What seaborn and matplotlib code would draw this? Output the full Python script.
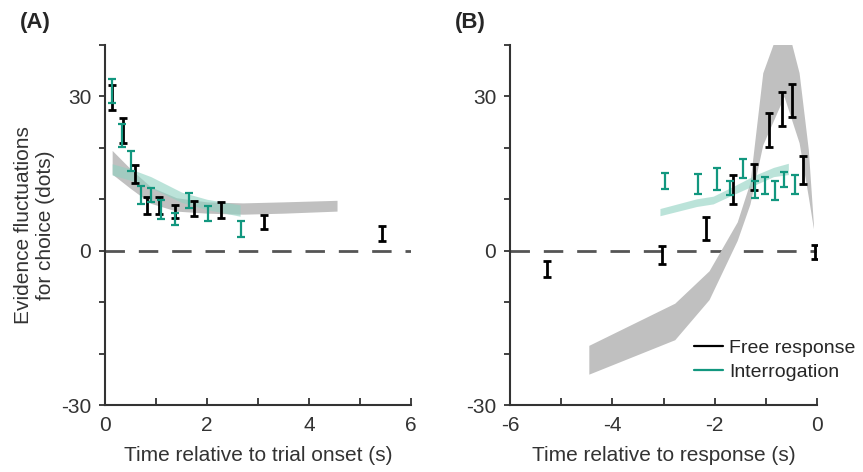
import numpy as np
import pandas as pd
import seaborn as sns
import matplotlib.pyplot as plt
from matplotlib.lines import Line2D
from matplotlib.ticker import MultipleLocator, FixedLocator

# Panel A: relative to trial onset
a_free_x = [0.14, 0.36, 0.59, 0.82, 1.06, 1.37, 1.75, 2.27, 3.12, 5.43]
a_free_y = [29.8, 23.4, 14.9, 8.8, 8.8, 7.6, 8.2, 7.9, 5.6, 3.3]
a_free_err = [2.4, 2.5, 1.7, 1.6, 1.6, 1.2, 1.4, 1.5, 1.3, 1.5]

a_int_x = [0.14, 0.33, 0.51, 0.70, 0.90, 1.10, 1.37, 1.65, 2.01, 2.66]
a_int_y = [31.0, 22.4, 17.4, 10.8, 10.8, 8.0, 6.2, 9.8, 7.2, 4.2]
a_int_err = [2.3, 2.3, 1.9, 1.8, 1.4, 1.8, 1.2, 1.5, 1.5, 1.5]

a_free_fit_x = [0.14, 0.5, 0.9, 1.4, 2.0, 2.7, 3.5, 4.55]
a_free_fit_y = [17.2, 14.0, 10.8, 9.0, 8.4, 8.2, 8.4, 8.75]
a_free_fit_sd = [2.3, 1.9, 1.6, 1.3, 1.1, 1.1, 1.1, 1.05]

a_int_fit_x = [0.14, 0.5, 0.9, 1.5, 2.0, 2.65]
a_int_fit_y = [15.8, 14.8, 13.3, 10.4, 9.0, 7.8]
a_int_fit_sd = [1.1, 1.1, 1.1, 1.0, 1.0, 1.1]

# Panel B: relative to response
b_free_x = [-5.28, -3.02, -2.16, -1.64, -1.23, -0.94, -0.69, -0.48, -0.27, -0.04]
b_free_y = [-3.55, -0.85, 4.3, 11.9, 14.3, 23.4, 27.5, 29.2, 15.7, -0.2]
b_free_err = [1.5, 1.7, 2.3, 2.9, 2.5, 3.3, 3.3, 3.2, 2.7, 1.4]

b_int_x = [-2.98, -2.32, -1.96, -1.70, -1.44, -1.21, -1.02, -0.83, -0.64, -0.43]
b_int_y = [13.6, 12.9, 13.9, 12.2, 16.0, 11.9, 12.7, 11.7, 13.9, 12.9]
b_int_err = [1.6, 1.95, 2.1, 1.4, 1.85, 1.6, 1.6, 1.85, 1.5, 1.8]

b_free_fit_x = [-4.46, -2.78, -2.11, -1.56, -1.31, -1.06, -0.645, -0.35, -0.17, -0.07]
b_free_fit_y = [-21.2, -13.75, -6.7, 3.8, 11.2, 27.6, 38.0, 27.8, 15.1, 4.7]
b_free_fit_sd = [2.8, 3.55, 2.8, 1.8, 2.1, 7.0, 8.0, 6.8, 4.6, 0.4]

b_int_fit_x = [-3.07, -2.35, -2.03, -1.64, -1.2, -0.85, -0.56]
b_int_fit_y = [7.5, 9.35, 9.85, 11.7, 13.8, 15.3, 15.9]
b_int_fit_sd = [0.7, 0.75, 0.75, 0.8, 0.95, 0.9, 1.1]

FREE = "#000000"
INTER = "#12977f"
GRAY_BAND = "#c0c0c0"
TEAL_BAND = "#8fd1c1"
TEXT = "#333333"

sns.set_theme(style="ticks")
plt.rcParams['font.family'] = ['Liberation Sans', 'DejaVu Sans']
plt.rcParams['axes.edgecolor'] = TEXT
plt.rcParams['axes.linewidth'] = 1.5
plt.rcParams['axes.unicode_minus'] = False

fig = plt.figure(figsize=(8.63, 4.72), dpi=100)
axA = fig.add_axes([0.1217, 0.1419, 0.3545, 0.7628])
axB = fig.add_axes([0.5910, 0.1419, 0.3557, 0.7628])


def draw_band(ax, x, y, sd, color, alpha=1.0):
    y = np.array(y)
    sd = np.array(sd)
    ax.fill_between(x, y - sd, y + sd, color=color, alpha=alpha, lw=0, zorder=1)


def draw_bars(ax, x, y, err, color, lw):
    ax.errorbar(x, y, yerr=err, fmt='none', ecolor=color, elinewidth=lw,
                capsize=3, capthick=lw, zorder=3)


# panel A
axA.axhline(0, color='#555555', lw=2, dashes=(7, 5), zorder=0)
draw_band(axA, a_free_fit_x, a_free_fit_y, a_free_fit_sd, GRAY_BAND)
draw_band(axA, a_int_fit_x, a_int_fit_y, a_int_fit_sd, TEAL_BAND, alpha=0.6)
draw_bars(axA, a_free_x, a_free_y, a_free_err, FREE, 2)
draw_bars(axA, a_int_x, a_int_y, a_int_err, INTER, 1.6)

# panel B
axB.axhline(0, color='#555555', lw=2, dashes=(7, 5), zorder=0)
draw_band(axB, b_free_fit_x, b_free_fit_y, b_free_fit_sd, GRAY_BAND)
draw_band(axB, b_int_fit_x, b_int_fit_y, b_int_fit_sd, TEAL_BAND, alpha=0.6)
draw_bars(axB, b_free_x, b_free_y, b_free_err, FREE, 2)
draw_bars(axB, b_int_x, b_int_y, b_int_err, INTER, 1.6)

for ax, xlim, xticks, xlabel in [
        (axA, (0, 6), [0, 2, 4, 6], "Time relative to trial onset (s)"),
        (axB, (-6, 0), [-6, -4, -2, 0], "Time relative to response (s)")]:
    ax.set_xlim(*xlim)
    ax.set_ylim(-30, 40)
    ax.set_xticks(xticks)
    ax.xaxis.set_minor_locator(MultipleLocator(1))
    ax.set_yticks([-30, 0, 30])
    ax.yaxis.set_minor_locator(FixedLocator(range(-30, 41, 10)))
    ax.tick_params(axis='x', which='both', direction='in', length=5, width=1.3,
                   labelsize=15, pad=8, colors=TEXT)
    ax.tick_params(axis='y', which='both', direction='out', length=4, width=1.3,
                   labelsize=15, pad=6, colors=TEXT)
    ax.set_xlabel(xlabel, fontsize=15, color=TEXT, labelpad=8)
    sns.despine(ax=ax)

axA.set_ylabel("Evidence fluctuations\nfor choice (dots)", fontsize=15,
               color=TEXT, labelpad=4)

handles = [Line2D([], [], color=FREE, lw=1.6), Line2D([], [], color=INTER, lw=1.6)]
axB.legend(handles, ["Free response", "Interrogation"], loc='center left',
           bbox_to_anchor=(0.60, 0.125), frameon=False, fontsize=14,
           borderaxespad=0, borderpad=0, handlelength=1.5,
           handletextpad=0.3, labelspacing=0.3)

fig.text(0.023, 0.953, "(A)", fontsize=16, fontweight='bold', va='center')
fig.text(0.527, 0.953, "(B)", fontsize=16, fontweight='bold', va='center')

fig.savefig("out.png", dpi=100)
